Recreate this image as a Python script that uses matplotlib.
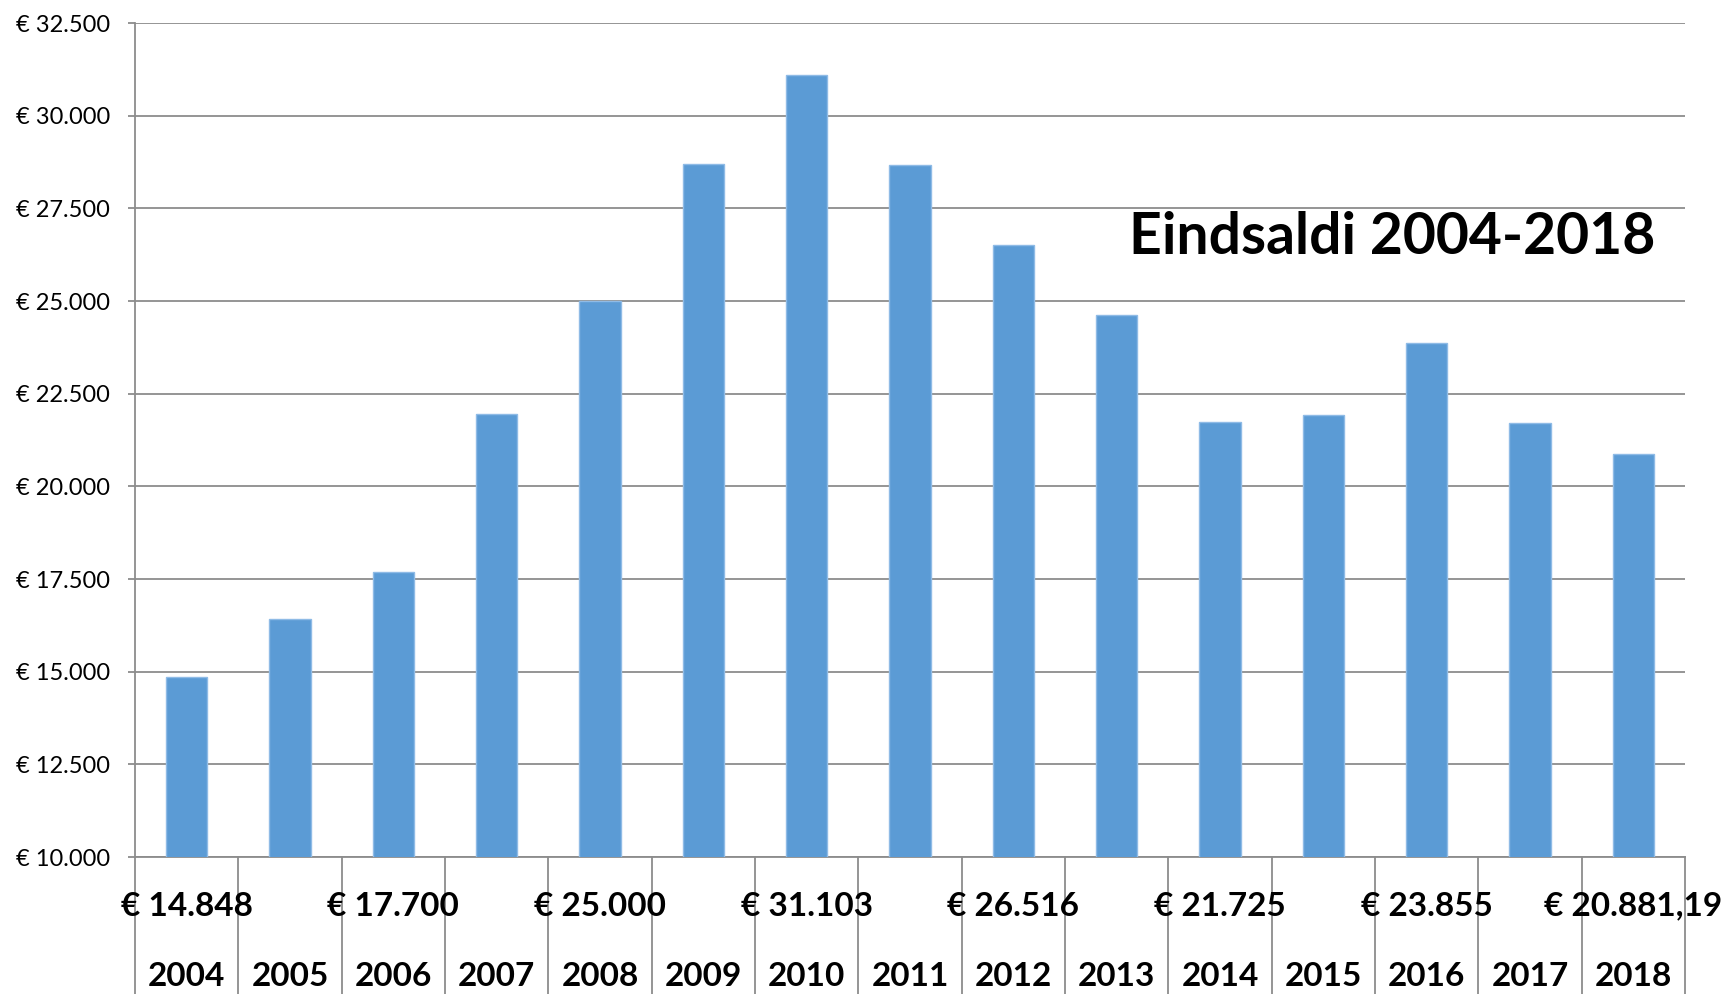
import matplotlib
matplotlib.use("Agg")
import matplotlib.pyplot as plt
import matplotlib.transforms as mtransforms

years = ["2004", "2005", "2006", "2007", "2008", "2009", "2010", "2011",
         "2012", "2013", "2014", "2015", "2016", "2017", "2018"]
values = [14848, 16410, 17700, 21960, 25000, 28700, 31103, 28670,
          26516, 24630, 21725, 21930, 23855, 21700, 20881.19]
yticks = [10000, 12500, 15000, 17500, 20000, 22500, 25000, 27500, 30000, 32500]
title = "Eindsaldi 2004-2018"


def eur(v):
    if abs(v - round(v)) > 1e-6:
        s = f"{v:,.2f}"
    else:
        s = f"{int(round(v)):,}"
    s = s.replace(",", "X").replace(".", ",").replace("X", ".")
    return "€ " + s


W, H = 1726, 994
fig = plt.figure(figsize=(W / 100, H / 100), dpi=100)
L, R, T, B = 135, 1685, 23, 857
ax = fig.add_axes([L / W, 1 - B / H, (R - L) / W, (B - T) / H])

FONT = "Lato"
grid_c = "#8c8c8c"
bar_c = "#5b9bd5"

x = list(range(len(years)))
ax.bar(x, values, width=0.4, color=bar_c, edgecolor="#8fbbe6", linewidth=1.0, zorder=3)
ax.set_xlim(-0.5, len(years) - 0.5)
ax.set_ylim(yticks[0], yticks[-1])
ax.set_yticks(yticks)
ax.set_yticklabels([eur(v) for v in yticks], fontname=FONT, fontsize=17)
ax.tick_params(axis="y", length=5, width=1.3, color=grid_c, pad=13)
ax.set_xticks([])
ax.yaxis.grid(True, color=grid_c, linewidth=1.3, zorder=0)
ax.set_axisbelow(True)
for s in ["top", "right"]:
    ax.spines[s].set_visible(False)
for s in ["left", "bottom"]:
    ax.spines[s].set_color(grid_c)
    ax.spines[s].set_linewidth(1.3)

# category separators extending below axis
trans = mtransforms.blended_transform_factory(ax.transData, ax.transAxes)
ybot = -(H - B) / (B - T) - 0.01
for k in range(len(years) + 1):
    ax.plot([k - 0.5, k - 0.5], [0, ybot], transform=trans, color=grid_c,
            linewidth=1.3, clip_on=False, zorder=1)

lab_y = (B - 906) / (B - T)
yr_y = (B - 976) / (B - T)
for i, (yr, v) in enumerate(zip(years, values)):
    if i % 2 == 0:
        ax.text(i, lab_y, eur(v), transform=trans, ha="center", va="center",
                fontname=FONT, fontweight="bold", fontsize=24, zorder=5)
    ax.text(i, yr_y, yr, transform=trans, ha="center", va="center",
            fontname=FONT, fontweight="bold", fontsize=24, zorder=5)

fig.text(1392 / W, 1 - 237 / H, title, ha="center", va="center",
         fontname=FONT, fontweight="bold", fontsize=41)

fig.savefig("out.png", dpi=100)
